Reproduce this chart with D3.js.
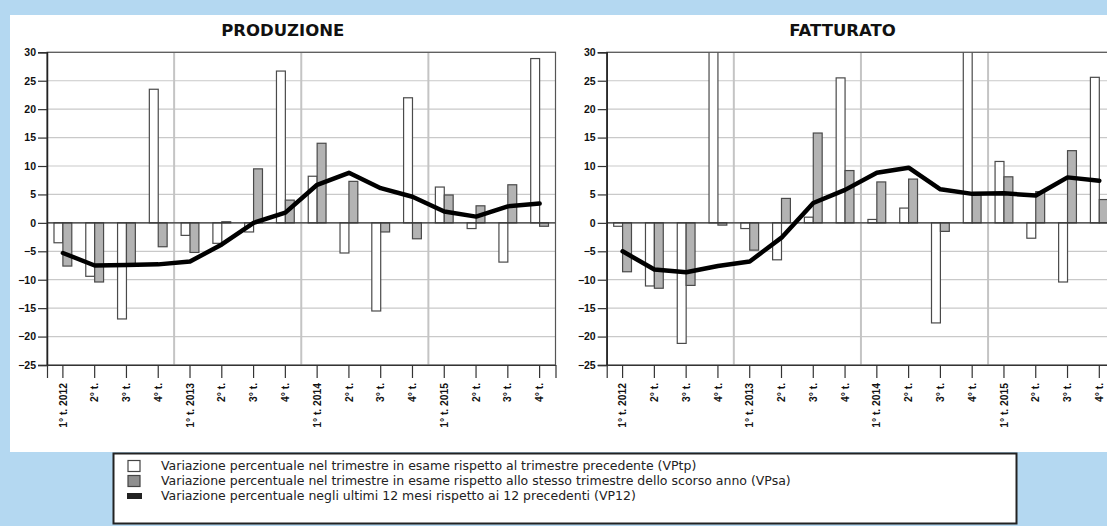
<!DOCTYPE html>
<html>
<head>
<meta charset="utf-8">
<script src="https://cdn.jsdelivr.net/npm/d3@7"></script>
<style>
    body { margin: 0; background: #b4d8f1; }
    svg { display: block; font-family: "DejaVu Sans", sans-serif; }
</style>
</head>
<body>
<svg id="chart" width="1107" height="526"></svg>
<script>
// quarters 2012-2015
const quarters = ["1° t. 2012", "2° t.", "3° t.", "4° t.",
    "1° t. 2013", "2° t.", "3° t.", "4° t.",
    "1° t. 2014", "2° t.", "3° t.", "4° t.",
    "1° t. 2015", "2° t.", "3° t.", "4° t."];
const yTicks = [30, 25, 20, 15, 10, 5, 0, -5, -10, -15, -20, -25];

// PRODUZIONE
const prodVPtp = [-3.5, -9.4, -16.9, 23.5, -2.2, -3.6, -1.6, 26.7, 8.2, -5.3, -15.5, 22.0, 6.3, -1.0, -6.9, 28.9];
const prodVPsa = [-7.6, -10.4, -7.2, -4.2, -5.2, 0.2, 9.5, 4.0, 14.0, 7.3, -1.6, -2.8, 4.9, 3.0, 6.7, -0.6];
const prodVP12 = [-5.3, -7.5, -7.4, -7.3, -6.8, -3.8, 0.0, 1.8, 6.7, 8.8, 6.1, 4.6, 2.0, 1.1, 2.9, 3.4];

// FATTURATO
const fattVPtp = [-0.6, -11.1, -21.2, 34.0, -1.0, -6.5, 1.0, 25.5, 0.6, 2.6, -17.6, 33.0, 10.8, -2.7, -10.4, 25.6];
const fattVPsa = [-8.6, -11.5, -11.0, -0.4, -4.8, 4.3, 15.8, 9.2, 7.2, 7.7, -1.5, 4.9, 8.1, 5.5, 12.7, 4.1];
const fattVP12 = [-5.0, -8.2, -8.7, -7.6, -6.8, -2.6, 3.5, 5.8, 8.8, 9.7, 5.9, 5.1, 5.2, 4.8, 8.0, 7.4];

const legendLabels = [
    "Variazione percentuale nel trimestre in esame rispetto al trimestre precedente (VPtp)",
    "Variazione percentuale nel trimestre in esame rispetto allo stesso trimestre dello scorso anno (VPsa)",
    "Variazione percentuale negli ultimi 12 mesi rispetto ai 12 precedenti (VP12)"
];

const svg = d3.select("#chart");
const plotTop = 52.3, plotBottom = 365;

// white sheet behind the two charts
svg.append("rect")
    .attr("x", 10).attr("y", 15)
    .attr("width", 1100).attr("height", 437)
    .attr("fill", "#fff");

function drawPanel(id, title, left, right, vptp, vpsa, vp12) {
    let x = d3.scaleBand().domain(d3.range(quarters.length)).range([left, right]);
    let y = d3.scaleLinear().domain([-25, 30]).range([plotBottom, plotTop]);
    let bw = x.bandwidth();
    let barW = bw * 0.28;
    let center = i => x(i) + bw / 2;

    svg.append("defs").append("clipPath")
        .attr("id", "clip-" + id)
        .append("rect")
        .attr("x", left).attr("y", plotTop)
        .attr("width", right - left).attr("height", plotBottom - plotTop);

    // horizontal grid
    svg.append("g")
        .attr("class", "grid")
        .selectAll("line")
        .data(yTicks)
        .join("line")
        .attr("x1", left).attr("x2", right)
        .attr("y1", d => y(d)).attr("y2", d => y(d))
        .attr("stroke", "#c9c9c9")
        .attr("stroke-width", 1.2);

    // year separators
    svg.append("g")
        .selectAll("line")
        .data([4, 8, 12])
        .join("line")
        .attr("x1", d => x(d)).attr("x2", d => x(d))
        .attr("y1", plotTop).attr("y2", plotBottom)
        .attr("stroke", "#c4c4c4")
        .attr("stroke-width", 2);

    let bars = svg.append("g").attr("clip-path", "url(#clip-" + id + ")");

    bars.selectAll(".vptp")
        .data(vptp)
        .join("rect")
        .attr("class", "vptp")
        .attr("x", (d, i) => center(i) - barW)
        .attr("y", d => y(Math.max(0, d)))
        .attr("width", barW)
        .attr("height", d => Math.abs(y(d) - y(0)))
        .attr("fill", "#fff")
        .attr("stroke", "#4a4a4a")
        .attr("stroke-width", 1.2);

    bars.selectAll(".vpsa")
        .data(vpsa)
        .join("rect")
        .attr("class", "vpsa")
        .attr("x", (d, i) => center(i))
        .attr("y", d => y(Math.max(0, d)))
        .attr("width", barW)
        .attr("height", d => Math.abs(y(d) - y(0)))
        .attr("fill", "#b3b3b3")
        .attr("stroke", "#4a4a4a")
        .attr("stroke-width", 1.2);

    // zero line
    svg.append("line")
        .attr("x1", left).attr("x2", right)
        .attr("y1", y(0)).attr("y2", y(0))
        .attr("stroke", "#333")
        .attr("stroke-width", 1.2);

    let line = d3.line()
        .x((d, i) => center(i))
        .y(d => y(d));

    svg.append("path")
        .datum(vp12)
        .attr("d", line)
        .attr("fill", "none")
        .attr("stroke", "#000")
        .attr("stroke-width", 4.5)
        .attr("stroke-linejoin", "round")
        .attr("stroke-linecap", "round");

    // frame
    svg.append("rect")
        .attr("x", left).attr("y", plotTop)
        .attr("width", right - left).attr("height", plotBottom - plotTop)
        .attr("fill", "none")
        .attr("stroke", "#555")
        .attr("stroke-width", 1.2);

    let yAxis = svg.append("g")
        .attr("transform", "translate(" + left + ",0)")
        .call(d3.axisLeft(y).tickValues(yTicks).tickSize(9).tickPadding(2));
    yAxis.select(".domain").attr("stroke", "#222").attr("stroke-width", 1.5);
    yAxis.selectAll(".tick line").attr("stroke", "#333").attr("stroke-width", 1.2);
    yAxis.selectAll("text")
        .attr("fill", "#111")
        .style("font-size", "10.5px")
        .style("font-weight", "bold");

    let xAxis = svg.append("g")
        .attr("transform", "translate(0," + plotBottom + ")")
        .call(d3.axisBottom(x).tickSize(13).tickFormat(i => quarters[i]));
    xAxis.select(".domain").attr("stroke", "#333").attr("stroke-width", 1.2);
    xAxis.selectAll(".tick line").attr("stroke", "#333").attr("stroke-width", 1.2);
    xAxis.selectAll("text")
        .attr("transform", "rotate(-90)")
        .attr("text-anchor", "end")
        .attr("x", -18)
        .attr("y", 0)
        .attr("dy", "0.35em")
        .attr("fill", "#111")
        .style("font-size", "10.3px")
        .style("font-weight", "bold");

    svg.append("text")
        .attr("x", (left - 37 + right) / 2)
        .attr("y", 36)
        .attr("text-anchor", "middle")
        .attr("fill", "#111")
        .style("font-size", "16.5px")
        .style("font-weight", "bold")
        .text(title);
}

drawPanel("prod", "PRODUZIONE", 47, 555.5, prodVPtp, prodVPsa, prodVP12);
drawPanel("fatt", "FATTURATO", 606.7, 1115.2, fattVPtp, fattVPsa, fattVP12);

// legend
let legend = svg.append("g").attr("class", "legend");
legend.append("rect")
    .attr("x", 113.5).attr("y", 453.5)
    .attr("width", 903).attr("height", 70)
    .attr("fill", "#fff")
    .attr("stroke", "#222")
    .attr("stroke-width", 2);

let rowY = d3.scalePoint().domain(d3.range(legendLabels.length)).range([466, 496]);
let rows = legend.selectAll(".row")
    .data(legendLabels)
    .join("g")
    .attr("class", "row")
    .attr("transform", (d, i) => "translate(0," + rowY(i) + ")");

rows.filter((d, i) => i < 2).append("rect")
    .attr("x", 128).attr("y", -5.5)
    .attr("width", 12).attr("height", 11)
    .attr("fill", (d, i) => i === 0 ? "#fff" : "#8e8e8e")
    .attr("stroke", "#444")
    .attr("stroke-width", 1.2);

rows.filter((d, i) => i === 2).append("rect")
    .attr("x", 127).attr("y", -3)
    .attr("width", 15).attr("height", 6)
    .attr("fill", "#222");

rows.append("text")
    .attr("x", 161)
    .attr("dy", "0.35em")
    .attr("fill", "#222")
    .style("font-size", "12.5px")
    .text(d => d);
</script>
</body>
</html>
